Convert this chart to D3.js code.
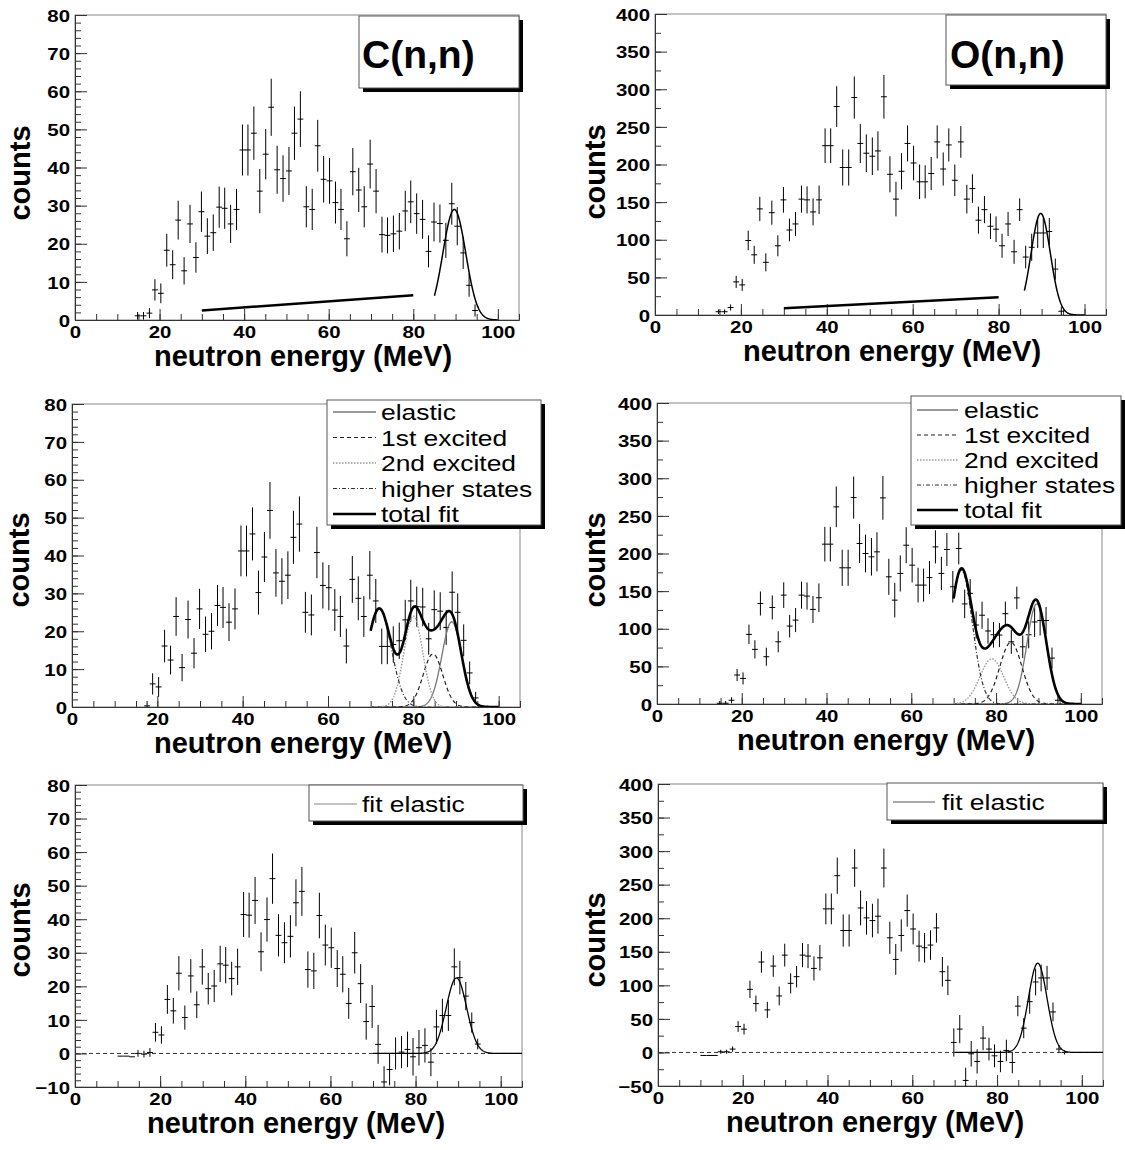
<!DOCTYPE html>
<html>
<head>
<meta charset="utf-8">
<script src="https://cdn.jsdelivr.net/npm/d3@7"></script>
<style>
body { margin: 0; background: #fff; }
text { font-family: "Liberation Sans", Arial, Helvetica, sans-serif; }
</style>
</head>
<body>
<svg id="fig" width="1125" height="1150"></svg>
<script>
// bin centres (MeV), same binning in all six histograms
const energy = [10.7, 12.1, 13.4, 14.8, 16.2, 17.6, 18.9, 20.3, 21.7, 23.1,
  24.4, 25.8, 27.2, 28.6, 29.9, 31.3, 32.7, 34.1, 35.4, 36.8,
  38.2, 39.6, 40.9, 42.3, 43.7, 45.1, 46.4, 47.8, 49.2, 50.6,
  51.9, 53.3, 54.7, 56.1, 57.4, 58.8, 60.2, 61.6, 62.9, 64.3,
  65.7, 67.1, 68.4, 69.8, 71.2, 72.6, 73.9, 75.3, 76.7, 78.1,
  79.4, 80.8, 82.2, 83.6, 84.9, 86.3, 87.7, 89.1, 90.4, 91.8,
  93.2, 94.6, 95.9, 97.3];
const binWidth = 1.375;

// top row: raw spectra
const cRaw = [null, null, null, 1.1, 1.1, 1.8, 7.9, 7.0, 18.3, 14.5,
  26.2, 12.9, 25.2, 16.4, 28.4, 22.0, 22.9, 29.6, 29.3, 25.2,
  29.0, 44.6, 44.6, 49.0, 33.8, 43.5, 55.8, 39.4, 37.1, 39.1,
  49.0, 52.7, 29.7, 29.0, 45.7, 36.9, 36.5, 30.8, 29.0, 21.3,
  38.9, 34.1, 29.7, 40.9, 33.8, 22.4, 22.2, 22.6, 23.3, 28.6,
  31.0, 27.9, 26.4, 18.0, 25.7, 25.3, 20.9, 30.5, 24.6, 17.6,
  9.1, 2.5, null, null];
const oRaw = [null, null, null, 4.4, 4.4, 10, 44, 40, 99, 80,
  141, 70, 136, 92, 153, 113, 121, 154, 153, 137,
  153, 225, 225, 277, 196, 196, 289, 228, 215, 211,
  218, 290, 187, 154, 191, 228, 202, 177, 177, 188,
  230, 194, 226, 179, 230, 154, 168, 126, 140, 118,
  114, 92, 121, 84, 140, 77, 90, 109, 109, 111,
  61, 5, null, null];

// middle row: background subtracted
const cSub = [null, null, null, null, null, 0.3, 6.1, 5.3, 16.1, 12.4,
  23.9, 10.4, 23.1, 14.2, 25.9, 19.2, 20.0, 26.8, 26.3, 22.4,
  25.9, 41.2, 41.2, 45.7, 30.2, 39.6, 51.9, 35.4, 33.2, 34.8,
  44.8, 48.3, 25.0, 24.3, 40.8, 32.1, 31.5, 25.6, 23.9, 16.1,
  33.7, 28.7, 23.9, 34.8, 28.0, 16.0, 16.0, 16.5, 17.5, 23.0,
  28.0, 26.5, 26.4, 18.0, 25.7, 25.3, 21.0, 30.3, 25.0, 17.6,
  9.0, 2.4, null, null];
const oSub = [null, null, null, 1, 1, 5, 38.5, 34, 92.5, 72.6,
  133.6, 62.8, 128.3, 82.7, 144.7, 103.5, 111.5, 144.7, 143.4, 125.7,
  141.2, 212.4, 212.4, 262, 181, 181, 274.3, 213.3, 200, 195.6,
  202.2, 273.9, 169, 138, 173.5, 211, 184.5, 158, 158, 168,
  208.8, 173.5, 205.3, 155.8, 206.6, 133, 147, 105, 118, 97,
  92, 91.6, 120, 82.7, 141, 76, 92, 109, 111, 111,
  61, 5, null, null];

// bottom row: excited states removed
const cElastic = [-0.8, -0.8, -1.0, 0.0, -0.2, 0.3, 6.3, 5.5, 16.1, 12.7,
  23.9, 10.7, 23.1, 14.5, 25.8, 19.3, 20.1, 26.7, 26.3, 22.3,
  25.8, 41.4, 41.2, 45.6, 30.3, 39.9, 52.1, 35.2, 33.0, 34.9,
  44.9, 48.3, 25.0, 24.6, 41.1, 32.3, 31.5, 25.3, 23.6, 14.9,
  30.0, 20.8, 9.5, 14.0, 2.7, -8.5, -4.8, 0.0, 0.4, 1.2,
  -1.0, 1.7, 2.4, -2.6, 7.9, 11.3, 11.3, 25.8, 22.6, 17.1,
  9.2, 2.8, null, null];
const oElastic = [-4.5, -4.5, -4.5, 1, 1, 5, 38.6, 34.7, 94, 72.8,
  134.7, 63.4, 128.7, 84.2, 145, 103, 112.9, 145, 143.6, 125.2,
  141, 213.9, 213.9, 263.4, 181.7, 181.7, 274.8, 215.3, 200.5, 196.5,
  203, 274.8, 170.8, 138.6, 174.3, 211.4, 184, 158.4, 156, 160,
  185.6, 120.3, 107.4, 14.9, 34.8, -41.7, -2, -13.4, 21.4, 5,
  -5, -13.4, 3, -15, 69, 36.2, 75.7, 105, 111, 111,
  60.4, 5, 0, null];

// error bars (same for the three panels of one target)
const cErr = [0, 0, 0, 1.0, 1.0, 1.3, 2.8, 2.6, 4.3, 3.8,
  5.1, 3.6, 5.0, 4.0, 5.3, 4.7, 4.8, 5.4, 5.4, 5.0,
  5.4, 6.7, 6.7, 7.0, 5.8, 6.6, 7.5, 6.3, 6.1, 6.3,
  7.0, 7.3, 5.4, 5.4, 6.8, 6.1, 6.0, 5.5, 5.4, 4.6,
  6.2, 5.8, 5.4, 6.4, 5.8, 4.7, 4.7, 4.8, 4.8, 5.3,
  5.6, 5.3, 5.1, 4.2, 5.1, 5.0, 4.6, 5.5, 5.0, 4.2,
  3.0, 1.6, 1.0, 1.0];
const oErr = [0, 0, 0, 3, 3, 4, 8, 8, 13, 12,
  16, 12, 16, 14, 17, 15, 16, 18, 18, 18,
  19, 23, 23, 27, 24, 24, 28, 26, 25, 25,
  26, 29, 24, 23, 24, 24, 23, 23, 22, 22,
  22, 22, 22, 21, 21, 19, 19, 18, 18, 17,
  17, 16, 16, 16, 15, 15, 18, 20, 20, 18,
  14, 6, 3, 3];

const xTicks = [0, 20, 40, 60, 80, 100];
const cTicks = [0, 10, 20, 30, 40, 50, 60, 70, 80];
const oTicks = [0, 50, 100, 150, 200, 250, 300, 350, 400];
const cTicksLow = [-10, 0, 10, 20, 30, 40, 50, 60, 70, 80];
const oTicksLow = [-50, 0, 50, 100, 150, 200, 250, 300, 350, 400];

// fits: gaussians as [amplitude, mean, sigma], lines as [[x,y],[x,y]]
const cBackground = [[30, 2.5], [80, 6.5]];
const oBackground = [[30, 9], [80, 23.5]];
const cPeakFit = [29, 89.7, 2.7];
const oPeakFit = [135, 89.8, 2.25];
const cPeakRange = [85, 100];
const oPeakRange = [86, 100];

const cElasticFit = [22.5, 89.0, 2.3];
const cFirstFit = [14, 84.6, 2.3];
const cSecondFit = [24, 80.0, 2.2];
const cHigherFit = [26, 72.0, 2.8];
const oElasticFit = [133, 89.6, 2.3];
const oFirstFit = [82, 83.5, 2.6];
const oSecondFit = [60, 79.0, 2.8];
const oHigherFit = [178, 71.8, 2.6];
const decompRange = [70, 100];

const cElasticOnly = [22.5, 89.6, 2.4];
const oElasticOnly = [133, 89.6, 2.2];
const elasticOnlyRange = [70, 105];

const legendNames = ["elastic", "1st excited", "2nd excited", "higher states", "total fit"];

var svg = d3.select("#fig");
svg.append("rect").attr("width", 1125).attr("height", 1150).attr("fill", "#fff");

var styles = {
  elastic: {stroke: "#777", width: 1.3, dash: null},
  first: {stroke: "#222", width: 1.2, dash: "4,3"},
  second: {stroke: "#999", width: 1.4, dash: "1.5,1.5"},
  higher: {stroke: "#333", width: 1.2, dash: "4,2,1,2"},
  total: {stroke: "#000", width: 2.6, dash: null}
};

function gauss(p, e) {
  return p[0] * Math.exp(-0.5 * Math.pow((e - p[1]) / p[2], 2));
}

// the original's small text is a bit wide for its height: widen the glyphs
function widen(sel, factor) {
  sel.each(function() {
    var w = this.getComputedTextLength();
    d3.select(this).attr("textLength", w * factor).attr("lengthAdjust", "spacingAndGlyphs");
  });
}

// d3.axis resets font attrs on its group, so restyle after the call
function tickFont(g) {
  g.attr("font-size", 17).attr("font-family", "Liberation Sans, Arial, sans-serif").attr("font-weight", "bold");
  g.selectAll("text").attr("fill", "#000");
}

function panel(p) {
  var x = d3.scaleLinear().domain([0, 105]).range([p.left, p.right]);
  var y = d3.scaleLinear().domain(p.yDomain).range([p.bottom, p.top]);

  svg.append("clipPath").attr("id", "clip-" + p.key)
    .append("rect")
    .attr("x", p.left).attr("y", p.top)
    .attr("width", p.right - p.left).attr("height", p.bottom - p.top);

  // frame
  svg.append("rect")
    .attr("x", p.left).attr("y", p.top)
    .attr("width", p.right - p.left).attr("height", p.bottom - p.top)
    .attr("fill", "none").attr("stroke", "#888").attr("stroke-width", 1);

  // x axis, ticks pointing into the frame
  svg.append("g").attr("transform", "translate(0," + p.bottom + ")")
    .call(d3.axisBottom(x).tickValues(d3.range(0, 105.01, 5)).tickSize(-6).tickSizeOuter(0).tickFormat(""))
    .attr("color", "#333");
  var gx = svg.append("g").attr("transform", "translate(0," + p.bottom + ")")
    .call(d3.axisBottom(x).tickValues(xTicks).tickSize(-11).tickSizeOuter(0))
    .attr("color", "#333");
  tickFont(gx);
  gx.selectAll("text").attr("y", 18).attr("dy", null);
  widen(gx.selectAll("text"), 1.2);

  // y axis
  var yMinor = d3.range(p.yDomain[0], p.yDomain[1] + 0.01, p.yMinorStep);
  svg.append("g").attr("transform", "translate(" + p.left + ",0)")
    .call(d3.axisLeft(y).tickValues(yMinor).tickSize(-6).tickSizeOuter(0).tickFormat(""))
    .attr("color", "#333");
  var gy = svg.append("g").attr("transform", "translate(" + p.left + ",0)")
    .call(d3.axisLeft(y).tickValues(p.yTicks).tickSize(-12).tickSizeOuter(0).tickPadding(5))
    .attr("color", "#333");
  tickFont(gy);
  gy.selectAll("text").attr("dy", "0.36em");
  widen(gy.selectAll("text"), 1.2);

  // axis titles
  svg.append("text")
    .attr("x", p.xTitleX).attr("y", p.bottom + 46)
    .attr("text-anchor", "middle")
    .style("font-size", "29px").style("font-weight", "bold")
    .text("neutron energy (MeV)");
  svg.append("text")
    .attr("transform", "translate(" + p.yTitleX + "," + p.yTitleY + ") rotate(-90)")
    .attr("text-anchor", "middle")
    .style("font-size", "29px").style("font-weight", "bold")
    .text("counts");

  // histogram with error bars
  var plot = svg.append("g").attr("clip-path", "url(#clip-" + p.key + ")");
  energy.forEach(function(e, i) {
    var v = p.values[i];
    if (v === null) return;
    var err = p.errors[i];
    plot.append("line")
      .attr("x1", x(e - binWidth / 2)).attr("x2", x(e + binWidth / 2))
      .attr("y1", y(v)).attr("y2", y(v))
      .attr("stroke", "#000").attr("stroke-width", 1);
    if (err > 0) {
      plot.append("line")
        .attr("x1", x(e)).attr("x2", x(e))
        .attr("y1", y(v - err)).attr("y2", y(v + err))
        .attr("stroke", "#000").attr("stroke-width", 1);
    }
  });

  return {x: x, y: y, plot: plot};
}

function curve(ax, range, fn) {
  var pts = d3.range(range[0], range[1] + 0.001, 0.1).map(function(e) { return [e, fn(e)]; });
  return d3.line().x(function(d) { return ax.x(d[0]); }).y(function(d) { return ax.y(d[1]); })(pts);
}

function drawCurve(ax, range, fn, st) {
  ax.plot.append("path")
    .attr("d", curve(ax, range, fn))
    .attr("fill", "none")
    .attr("stroke", st.stroke).attr("stroke-width", st.width)
    .attr("stroke-dasharray", st.dash);
}

function drawLine(ax, pts, width) {
  ax.plot.append("path")
    .attr("d", d3.line().x(function(d) { return ax.x(d[0]); }).y(function(d) { return ax.y(d[1]); })(pts))
    .attr("fill", "none").attr("stroke", "#000").attr("stroke-width", width);
}

function box(x0, y0, x1, y1) {
  svg.append("rect").attr("x", x0 + 4).attr("y", y0 + 4)
    .attr("width", x1 - x0).attr("height", y1 - y0).attr("fill", "#000");
  svg.append("rect").attr("x", x0).attr("y", y0)
    .attr("width", x1 - x0).attr("height", y1 - y0)
    .attr("fill", "#fff").attr("stroke", "#555").attr("stroke-width", 1);
}

function legendEntry(lx0, lx1, tx, base, label, st) {
  svg.append("line").attr("x1", lx0).attr("x2", lx1)
    .attr("y1", base - 8).attr("y2", base - 8)
    .attr("stroke", st.stroke).attr("stroke-width", st.width)
    .attr("stroke-dasharray", st.dash);
  var t = svg.append("text").attr("x", tx).attr("y", base)
    .style("font-size", "22px")
    .text(label);
  widen(t, 1.2);
}

function zeroLine(ax) {
  ax.plot.append("line")
    .attr("x1", ax.x(0)).attr("x2", ax.x(105))
    .attr("y1", ax.y(0)).attr("y2", ax.y(0))
    .attr("stroke", "#333").attr("stroke-width", 1).attr("stroke-dasharray", "4,3");
}

// ---------- top row ----------
var a1 = panel({key: "c1", left: 75, right: 519, top: 15, bottom: 320, yDomain: [0, 80],
  yTicks: cTicks, yMinorStep: 2, values: cRaw, errors: cErr,
  xTitleX: 303, yTitleX: 30, yTitleY: 173});
drawLine(a1, cBackground, 2.5);
drawCurve(a1, cPeakRange, function(e) { return gauss(cPeakFit, e); }, {stroke: "#000", width: 1.5, dash: null});
box(359, 16, 519, 88);
svg.append("text").attr("x", 362).attr("y", 68)
  .style("font-size", "39px").style("font-weight", "bold").text("C(n,n)");

var a2 = panel({key: "o1", left: 655, right: 1106, top: 14, bottom: 315, yDomain: [0, 400],
  yTicks: oTicks, yMinorStep: 25, values: oRaw, errors: oErr,
  xTitleX: 892, yTitleX: 605, yTitleY: 172});
drawLine(a2, oBackground, 2.5);
drawCurve(a2, oPeakRange, function(e) { return gauss(oPeakFit, e); }, {stroke: "#000", width: 1.5, dash: null});
box(946, 15, 1106, 85);
svg.append("text").attr("x", 950).attr("y", 68)
  .style("font-size", "39px").style("font-weight", "bold").text("O(n,n)");

// ---------- middle row ----------
function decomposition(ax, comps) {
  drawCurve(ax, decompRange, function(e) { return gauss(comps[0], e); }, styles.elastic);
  drawCurve(ax, decompRange, function(e) { return gauss(comps[1], e); }, styles.first);
  drawCurve(ax, decompRange, function(e) { return gauss(comps[2], e); }, styles.second);
  drawCurve(ax, decompRange, function(e) { return gauss(comps[3], e); }, styles.higher);
  drawCurve(ax, decompRange, function(e) {
    return comps.reduce(function(s, c) { return s + gauss(c, e); }, 0);
  }, styles.total);
}
var legendStyles = [styles.elastic, styles.first, styles.second, styles.higher, styles.total];

var a3 = panel({key: "c2", left: 72, right: 520, top: 404, bottom: 707, yDomain: [0, 80],
  yTicks: cTicks, yMinorStep: 2, values: cSub, errors: cErr,
  xTitleX: 303, yTitleX: 29, yTitleY: 560});
decomposition(a3, [cElasticFit, cFirstFit, cSecondFit, cHigherFit]);
box(327, 400, 541, 525);
legendNames.forEach(function(n, i) {
  legendEntry(333, 376, 381, 420 + i * 25.5, n, legendStyles[i]);
});

var a4 = panel({key: "o2", left: 657, right: 1102, top: 403, bottom: 704, yDomain: [0, 400],
  yTicks: oTicks, yMinorStep: 25, values: oSub, errors: oErr,
  xTitleX: 886, yTitleX: 605, yTitleY: 560});
decomposition(a4, [oElasticFit, oFirstFit, oSecondFit, oHigherFit]);
box(911, 396, 1121, 525);
legendNames.forEach(function(n, i) {
  legendEntry(917, 958, 964, 418 + i * 25, n, legendStyles[i]);
});

// ---------- bottom row ----------
var a5 = panel({key: "c3", left: 75, right: 522, top: 785, bottom: 1087, yDomain: [-10, 80],
  yTicks: cTicksLow, yMinorStep: 2, values: cElastic, errors: cErr,
  xTitleX: 296, yTitleX: 30, yTitleY: 930});
zeroLine(a5);
drawCurve(a5, elasticOnlyRange, function(e) { return gauss(cElasticOnly, e); }, {stroke: "#000", width: 1.3, dash: null});
box(309, 785, 523, 821);
legendEntry(314, 357, 362, 812, "fit elastic", {stroke: "#888", width: 1.2, dash: null});

var a6 = panel({key: "o3", left: 658, right: 1103, top: 784, bottom: 1086, yDomain: [-50, 400],
  yTicks: oTicksLow, yMinorStep: 25, values: oElastic, errors: oErr,
  xTitleX: 875, yTitleX: 605, yTitleY: 940});
zeroLine(a6);
drawCurve(a6, elasticOnlyRange, function(e) { return gauss(oElasticOnly, e); }, {stroke: "#000", width: 1.3, dash: null});
box(887, 783, 1103, 820);
legendEntry(893, 935, 942, 810, "fit elastic", {stroke: "#555", width: 1.2, dash: null});
</script>
</body>
</html>
